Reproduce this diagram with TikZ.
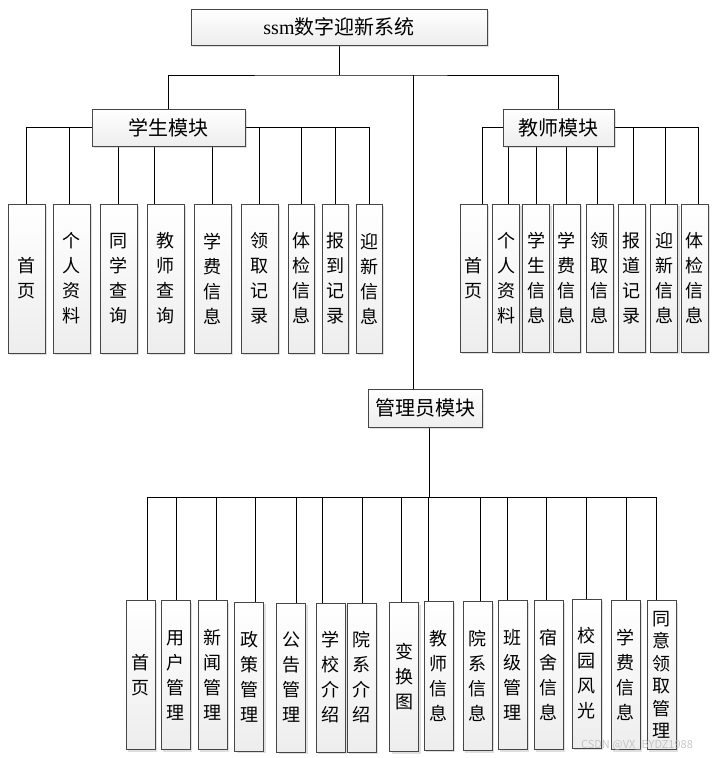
\documentclass[tikz,border=0pt]{standalone}
\usepackage{fontspec}
\setmainfont{Liberation Serif}
\newfontfamily\cjk{Noto Sans CJK SC}
\usetikzlibrary{shadows,backgrounds}
\tikzset{
    box/.style={draw=gray!55!black, line width=0.9pt, top color=white, bottom color=gray!14,
        drop shadow={shadow xshift=2pt, shadow yshift=-2pt, opacity=0.25, fill=gray},
        inner sep=0pt, align=center},
    modbox/.style={box, font=\cjk\fontsize{20}{24}\selectfont},
    leaf/.style={box, font=\cjk\fontsize{18}{25}\selectfont},
    link/.style={line width=0.8pt}
}

\begin{document}
\begin{tikzpicture}[x=1pt, y=-1pt]
    \useasboundingbox (0,0) rectangle (719,758);

    % Modules
    \node[modbox, font=\fontsize{20}{24}\selectfont, minimum width=296pt, minimum height=36pt] (sys) at (339,27) {ssm{\cjk 数字迎新系统}};
    \node[modbox, minimum width=153pt, minimum height=37pt] (stu) at (168.5,127.5) {学生模块};
    \node[modbox, minimum width=111pt, minimum height=37pt] (tch) at (558.5,127.5) {教师模块};
    \node[modbox, minimum width=114pt, minimum height=38pt] (adm) at (425,408) {管理员模块};
    \coordinate (hub) at (339,75);
    \coordinate (abus) at (429,497);

    % Student leaves
    \foreach \n/\cx/\w/\dx/\t in {1/26.5/37/0/{首\\页}, 2/71.5/37/-2.5/{个\\人\\资\\料},
        3/118.5/37/0/{同\\学\\查\\询}, 4/165.5/37/-11.5/{教\\师\\查\\询},
        5/212.5/37/0/{学\\费\\信\\息}, 6/259.5/37/0/{领\\取\\记\\录},
        7/301/26/0/{体\\检\\信\\息}, 8/335/26/0/{报\\到\\记\\录}, 9/369/26/0/{迎\\新\\信\\息}}
    {
        \node[leaf, minimum width=\w pt, minimum height=149pt] (s\n) at (\cx,278.5) {\t};
        \begin{scope}[on background layer]
            \draw[link] ([xshift=\dx pt]s\n.north) |- (stu.center);
        \end{scope}
    }

    % Teacher leaves
    \foreach \n/\cx/\dx/\t in {1/473.5/8.5/{首\\页}, 2/506/2/{个\\人\\资\\料},
        3/536/0/{学\\生\\信\\息}, 4/566.5/0/{学\\费\\信\\息}, 5/599.5/-2.5/{领\\取\\信\\息},
        6/631.5/1.5/{报\\道\\记\\录}, 7/664/1/{迎\\新\\信\\息}, 8/694.5/3.5/{体\\检\\信\\息}}
    {
        \node[leaf, minimum width=27pt, minimum height=148pt] (t\n) at (\cx,278) {\t};
        \begin{scope}[on background layer]
            \draw[link] ([xshift=\dx pt]t\n.north) |- (tch.center);
        \end{scope}
    }

    % Admin leaves
    \foreach \n/\cx/\cy/\dx/\t in {1/140.5/675/6.5/{首\\页}, 2/175.5/675/0.5/{用\\户\\管\\理},
        3/212.5/675/3.5/{新\\闻\\管\\理}, 4/249/676.5/6/{政\\策\\管\\理},
        5/291/677.5/5/{公\\告\\管\\理}, 6/330.5/677.5/-8.5/{学\\校\\介\\绍},
        7/361.5/677.5/0.5/{院\\系\\介\\绍}, 8/404/677/-3/{变\\换\\图},
        9/438.5/675.5/-10.5/{教\\师\\信\\息}, 10/477.5/676/2.5/{院\\系\\信\\息},
        11/512.5/675/-5.5/{班\\级\\管\\理}, 12/548.5/675/-2.5/{宿\\舍\\信\\息},
        13/586.5/673.5/-0.5/{校\\园\\风\\光}, 14/625.5/675/0.5/{学\\费\\信\\息},
        15/661.5/675/-5.5/{同\\[-2.5pt]意\\[-2.5pt]领\\[-2.5pt]取\\[-2.5pt]管\\[-2.5pt]理}}
    {
        \node[leaf, minimum width=29pt, minimum height=149pt] (a\n) at (\cx,\cy) {\t};
        \begin{scope}[on background layer]
            \draw[link] ([xshift=\dx pt]a\n.north) |- (abus);
        \end{scope}
    }

    % Top connectors
    \begin{scope}[on background layer]
        \draw[link] (sys) -- (hub);
        \draw[link] (stu.north) |- (hub) -| (tch.north);
        \draw[link] ([xshift=-12pt]adm.north) -- ([xshift=-12pt]adm.north |- hub);
        \draw[link] (adm.south -| abus) -- (abus);
    \end{scope}

    % Watermark
    \node[font=\cjk\fontsize{11}{13}\selectfont, text=gray!55, opacity=0.8] (mark) at (637,745) {CSDN @VX\_BYDZ1988};
\end{tikzpicture}
\end{document}
